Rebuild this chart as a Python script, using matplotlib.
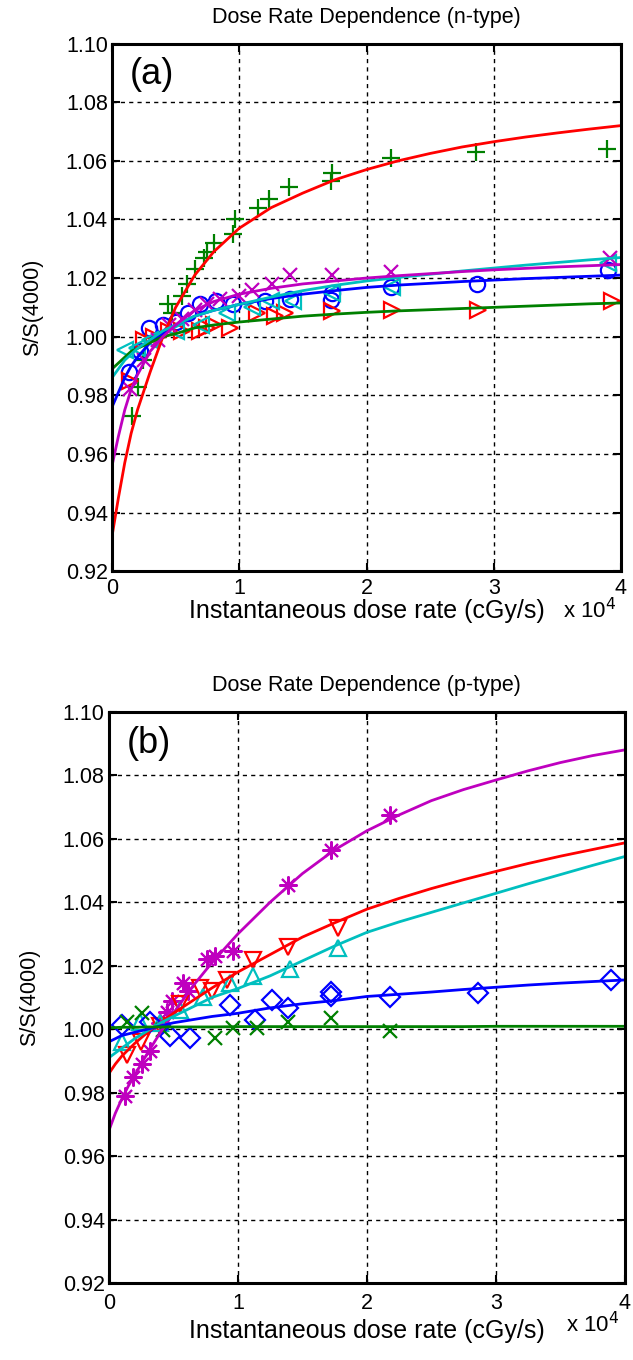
import numpy as np
import matplotlib
matplotlib.use("Agg")
import matplotlib.pyplot as plt
from matplotlib.ticker import FuncFormatter

plt.rcParams['font.family'] = ['Liberation Sans', 'DejaVu Sans']

# ---------------- n-type (a) ----------------
# medidas
na_plus_x = [1550, 2050, 2450, 3500, 4400, 4700, 5500, 5900, 6500, 7200, 7500, 8000, 9500, 9700, 11500, 12300, 13900, 17200, 17300, 21900, 28600, 38900]
na_plus_y = [0.973, 0.983, 0.992, 1.000, 1.011, 1.008, 1.014, 1.018, 1.023, 1.027, 1.029, 1.032, 1.035, 1.040, 1.044, 1.047, 1.051, 1.053, 1.056, 1.061, 1.063, 1.064]

na_circ_x = [1300, 2200, 2900, 4000, 5000, 6000, 6900, 8200, 9500, 12000, 14000, 17200, 17300, 21900, 28700, 39000]
na_circ_y = [0.988, 0.995, 1.003, 1.004, 1.005, 1.008, 1.011, 1.012, 1.011, 1.012, 1.013, 1.0126, 1.015, 1.017, 1.018, 1.0226]

na_tri_r_x = [1400, 2500, 3300, 4500, 5500, 6900, 7500, 8000, 9300, 11400, 12800, 13600, 17300, 22000, 28800, 39300]
na_tri_r_y = [0.985, 0.999, 1.000, 1.002, 1.002, 1.002, 1.003, 1.004, 1.003, 1.008, 1.007, 1.008, 1.0086, 1.0092, 1.0092, 1.012]

na_tri_c_x = [1000, 2000, 3000, 5000, 7000, 9000, 11000, 12500, 14200, 17300, 22000, 39000]
na_tri_c_y = [0.9955, 0.996, 0.999, 1.002, 1.004, 1.008, 1.010, 1.012, 1.012, 1.015, 1.017, 1.025]

na_x_x = [1400, 2500, 3600, 4500, 5500, 6500, 7500, 8500, 10000, 11000, 12600, 14000, 17300, 21900, 39100]
na_x_y = [0.982, 0.992, 0.999, 1.004, 1.006, 1.009, 1.011, 1.013, 1.014, 1.016, 1.018, 1.021, 1.021, 1.022, 1.027]

# curvas de ajuste
fit_x = [0, 500, 1000, 1500, 2000, 3000, 4000, 5000, 6500, 8000, 10000, 12500, 15000, 17500,
         20000, 22500, 25000, 27500, 30000, 32500, 35000, 37500, 40000]
na_fit_red = [0.932, 0.945, 0.957, 0.967, 0.975, 0.988, 1.000, 1.010, 1.021, 1.029, 1.037, 1.044, 1.049, 1.0535,
              1.057, 1.060, 1.0625, 1.0647, 1.0665, 1.0681, 1.0695, 1.0708, 1.072]
na_fit_blue = [0.976, 0.981, 0.986, 0.990, 0.993, 0.998, 1.001, 1.004, 1.007, 1.009, 1.011, 1.013, 1.0145, 1.0157,
               1.0168, 1.0176, 1.0182, 1.0188, 1.0193, 1.0198, 1.0202, 1.0206, 1.021]
na_fit_green = [0.989, 0.991, 0.993, 0.995, 0.996, 0.998, 1.000, 1.001, 1.003, 1.004, 1.005, 1.006, 1.007, 1.0077,
                1.0083, 1.0088, 1.0092, 1.0096, 1.0100, 1.0104, 1.0108, 1.0112, 1.0115]
na_fit_cyan = [0.986, 0.989, 0.992, 0.994, 0.996, 0.999, 1.002, 1.004, 1.007, 1.009, 1.011, 1.0135, 1.0157, 1.0175,
               1.019, 1.0202, 1.0213, 1.0224, 1.0234, 1.0244, 1.0253, 1.0262, 1.027]
na_fit_mag = [0.956, 0.966, 0.975, 0.982, 0.987, 0.995, 1.000, 1.004, 1.009, 1.012, 1.0145, 1.0165, 1.018, 1.019,
              1.020, 1.0208, 1.0215, 1.0222, 1.0228, 1.0233, 1.0238, 1.0242, 1.0246]

# ---------------- p-type (b) ----------------
pb_star_x = [1240, 1890, 2540, 3180, 3950, 4470, 4860, 5760, 6150, 7570, 8220, 9640, 13900, 17260, 21780]
pb_star_y = [0.979, 0.985, 0.989, 0.993, 1.002, 1.0055, 1.009, 1.0145, 1.012, 1.022, 1.023, 1.0245, 1.0455, 1.0565, 1.0675]

pb_tri_d_x = [1370, 2500, 4000, 5500, 7050, 8000, 9120, 11190, 13900, 17780]
pb_tri_d_y = [0.992, 0.996, 1.001, 1.008, 1.013, 1.012, 1.0155, 1.0218, 1.026, 1.032]

pb_tri_u_x = [1000, 2400, 4000, 5500, 7310, 9380, 11190, 14030, 17780]
pb_tri_u_y = [0.996, 1.0024, 1.002, 1.006, 1.0102, 1.0145, 1.0166, 1.019, 1.0256]

pb_dia_x = [980, 3180, 4730, 6280, 9380, 11320, 12610, 13900, 17260, 17260, 21780, 28640, 38970]
pb_dia_y = [1.0013, 1.0024, 0.9977, 0.9971, 1.0076, 1.0029, 1.0092, 1.0067, 1.0105, 1.0118, 1.0102, 1.0114, 1.0155]

pb_x_x = [1370, 2540, 4210, 8220, 9640, 11450, 13900, 17260, 21780]
pb_x_y = [1.0024, 1.005, 0.9997, 0.9971, 1.0003, 1.0003, 1.0024, 1.0035, 0.9993]

pb_fit_mag = [0.968, 0.9735, 0.978, 0.982, 0.9855, 0.9925, 0.999, 1.005, 1.0135, 1.021, 1.030, 1.040, 1.049, 1.0565,
              1.0625, 1.0675, 1.072, 1.0755, 1.0785, 1.0814, 1.084, 1.0862, 1.088]
pb_fit_red = [0.986, 0.989, 0.9915, 0.9935, 0.9955, 0.999, 1.002, 1.005, 1.009, 1.013, 1.018, 1.0235, 1.029, 1.0335,
              1.0378, 1.0412, 1.0443, 1.0471, 1.0497, 1.0522, 1.0545, 1.0566, 1.0587]
pb_fit_cyan = [0.991, 0.9925, 0.994, 0.9955, 0.997, 0.9995, 1.002, 1.004, 1.007, 1.010, 1.0128, 1.0168, 1.0215, 1.0262,
               1.0305, 1.0338, 1.0368, 1.0398, 1.0428, 1.0458, 1.0487, 1.0516, 1.0544]
pb_fit_blue = [0.996, 0.997, 0.998, 0.9985, 0.999, 1.000, 1.001, 1.002, 1.003, 1.004, 1.005, 1.0067, 1.008, 1.009,
               1.0103, 1.011, 1.0117, 1.0125, 1.0132, 1.0139, 1.0145, 1.015, 1.0155]
pb_fit_green = [1.0005, 1.0005, 1.0006, 1.0006, 1.0006, 1.0007, 1.0007, 1.0007, 1.0007, 1.0007, 1.0008, 1.0008, 1.0008, 1.0008,
                1.0008, 1.0008, 1.0008, 1.0008, 1.0009, 1.0009, 1.0009, 1.0009, 1.0009]

# cores estilo matlab
RED = (1, 0, 0)
GREEN = (0, 0.5, 0)
BLUE = (0, 0, 1)
CYAN = (0, 0.75, 0.75)
MAG = (0.75, 0, 0.75)

ASTER = (8, 2, 0)  # asterisco tipo matlab


def estilo(ax, title, letra, tpad, xlpad, offy):
    ax.set_xlim(0, 40000)
    ax.set_ylim(0.92, 1.10)
    ax.set_xticks([0, 10000, 20000, 30000, 40000])
    ax.set_yticks(np.arange(0.92, 1.1001, 0.02))
    ax.xaxis.set_major_formatter(FuncFormatter(lambda v, p: "%d" % round(v / 10000)))
    ax.yaxis.set_major_formatter(FuncFormatter(lambda v, p: "%.2f" % v))
    ax.grid(True, color='black', linestyle=(0, (3, 3)), linewidth=1.0)
    ax.tick_params(direction='in', top=True, right=True, length=6, width=1.5, labelsize=15.5)
    ax.tick_params(axis='x', pad=tpad)
    ax.tick_params(axis='y', pad=3)
    for s in ax.spines.values():
        s.set_linewidth(2.2)
    ax.set_title(title, fontsize=15.5, pad=15)
    ax.set_xlabel("Instantaneous dose rate (cGy/s)", fontsize=18, labelpad=xlpad)
    ax.set_ylabel("S/S(4000)", fontsize=15.5, labelpad=16)
    ax.text(0.99, offy, r"x 10$^4$", transform=ax.transAxes, ha='right', va='top', fontsize=16)
    ax.text(0.035, 0.975, letra, transform=ax.transAxes, ha='left', va='top', fontsize=26)


fig = plt.figure(figsize=(6.33, 13.6), dpi=100)

ax1 = fig.add_axes([0.177, 0.580, 0.804, 0.388])
ax1.plot(na_plus_x, na_plus_y, '+', color=GREEN, ms=13, mew=1.6)
ax1.plot(na_circ_x, na_circ_y, 'o', color=BLUE, mfc='none', ms=11, mew=1.6)
ax1.plot(na_tri_r_x, na_tri_r_y, '>', color=RED, mfc='none', ms=11, mew=1.6)
ax1.plot(na_tri_c_x, na_tri_c_y, '<', color=CYAN, mfc='none', ms=11, mew=1.6)
ax1.plot(na_x_x, na_x_y, 'x', color=MAG, ms=10, mew=1.6)
ax1.plot(fit_x, na_fit_red, '-', color=RED, lw=2)
ax1.plot(fit_x, na_fit_blue, '-', color=BLUE, lw=2)
ax1.plot(fit_x, na_fit_green, '-', color=GREEN, lw=2)
ax1.plot(fit_x, na_fit_cyan, '-', color=CYAN, lw=2)
ax1.plot(fit_x, na_fit_mag, '-', color=MAG, lw=2)
estilo(ax1, "Dose Rate Dependence (n-type)", "(a)", 5, 0, -0.05)

ax2 = fig.add_axes([0.172, 0.0566, 0.815, 0.42])
ax2.plot(pb_star_x, pb_star_y, marker=ASTER, ls='none', color=MAG, ms=13, mew=1.5)
ax2.plot(pb_tri_d_x, pb_tri_d_y, 'v', color=RED, mfc='none', ms=12, mew=1.6)
ax2.plot(pb_tri_u_x, pb_tri_u_y, '^', color=CYAN, mfc='none', ms=12, mew=1.6)
ax2.plot(pb_dia_x, pb_dia_y, 'D', color=BLUE, mfc='none', ms=10, mew=1.6)
ax2.plot(pb_x_x, pb_x_y, 'x', color=GREEN, ms=10, mew=1.6)
ax2.plot(fit_x, pb_fit_mag, '-', color=MAG, lw=2)
ax2.plot(fit_x, pb_fit_red, '-', color=RED, lw=2)
ax2.plot(fit_x, pb_fit_cyan, '-', color=CYAN, lw=2)
ax2.plot(fit_x, pb_fit_blue, '-', color=BLUE, lw=2)
ax2.plot(fit_x, pb_fit_green, '-', color=GREEN, lw=2)
estilo(ax2, "Dose Rate Dependence (p-type)", "(b)", 7, 4, -0.05)

fig.savefig("out.png", dpi=100)
